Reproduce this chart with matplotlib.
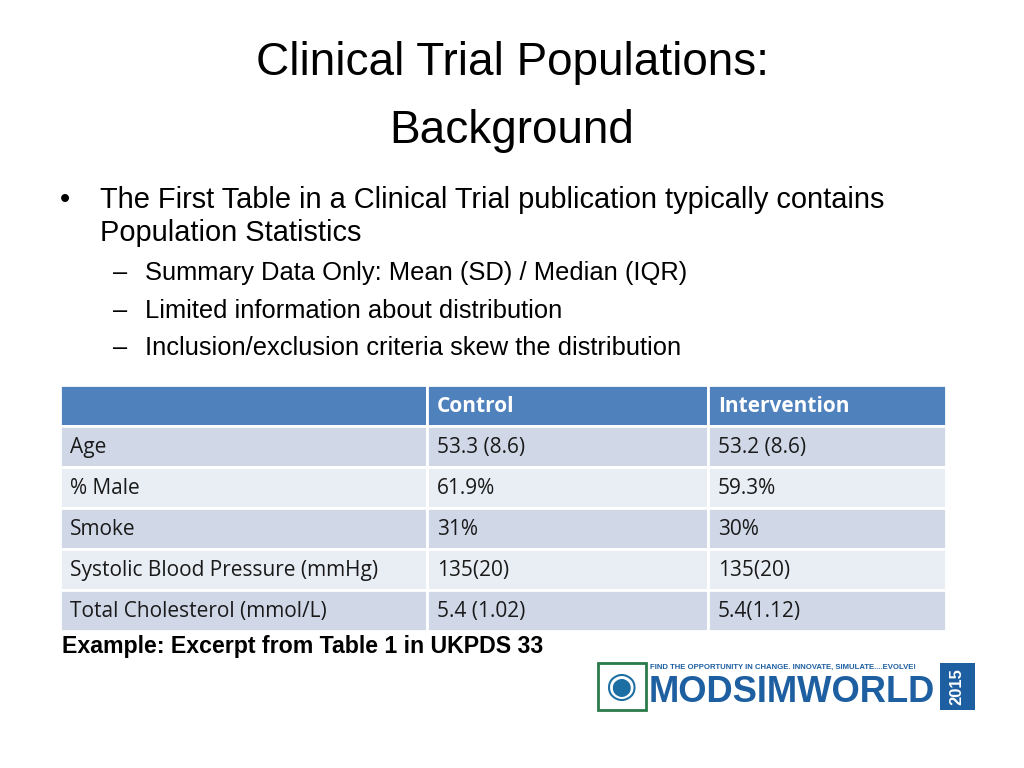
import matplotlib
matplotlib.use("Agg")
import matplotlib.pyplot as plt
from matplotlib.patches import Rectangle

title_lines = ["Clinical Trial Populations:", "Background"]
bullets = ["The First Table in a Clinical Trial publication typically contains", "Population Statistics"]
subbullets = ["Summary Data Only: Mean (SD) / Median (IQR)",
              "Limited information about distribution",
              "Inclusion/exclusion criteria skew the distribution"]
columns = ["", "Control", "Intervention"]
rows = ["Age", "% Male", "Smoke", "Systolic Blood Pressure (mmHg)", "Total Cholesterol (mmol/L)"]
control = ["53.3 (8.6)", "61.9%", "31%", "135(20)", "5.4 (1.02)"]
intervention = ["53.2 (8.6)", "59.3%", "30%", "135(20)", "5.4(1.12)"]
caption = "Example: Excerpt from Table 1 in UKPDS 33"

F = "Liberation Sans"
fig = plt.figure(figsize=(10.24, 7.68), dpi=100)
ax = fig.add_axes([0, 0, 1, 1])
ax.set_xlim(0, 1024); ax.set_ylim(768, 0); ax.axis("off")

ax.text(512, 63, title_lines[0], ha="center", va="center", fontsize=33, family=F)
ax.text(512, 131, title_lines[1], ha="center", va="center", fontsize=33, family=F)

ax.text(60, 200, "•", ha="left", va="center", fontsize=21, family=F)
ax.text(100, 200, bullets[0], ha="left", va="center", fontsize=20.9, family=F)
ax.text(100, 233, bullets[1], ha="left", va="center", fontsize=20.9, family=F)
for i, s in enumerate(subbullets):
    y = 273 + i * 37.5
    ax.text(113, y, "–", ha="left", va="center", fontsize=18.4, family=F)
    ax.text(145, y, s, ha="left", va="center", fontsize=18.4, family=F)

# table
xs = [60, 427, 708, 946]
y0, rh = 385, 41
for j in range(3):
    ax.add_patch(Rectangle((xs[j], y0), xs[j+1]-xs[j], rh, fc="#4F81BD", ec="white", lw=2))
    ax.text(xs[j] + 10, y0 + rh/2 + 1, columns[j], ha="left", va="center", fontsize=15,
            color="white", weight="bold", family="Open Sans")
for i in range(len(rows)):
    y = y0 + rh * (i + 1)
    fc = "#D0D8E8" if i % 2 == 0 else "#E9EDF4"
    vals = [rows[i], control[i], intervention[i]]
    for j in range(3):
        ax.add_patch(Rectangle((xs[j], y), xs[j+1]-xs[j], rh, fc=fc, ec="white", lw=2))
        ax.text(xs[j] + 10, y + rh/2 + 1, vals[j], ha="left", va="center", fontsize=15,
                color="#1a1a1a", family="Open Sans")

ax.text(62, 647, caption, ha="left", va="center", fontsize=16.7, weight="bold", family=F)

# logo
ax.add_patch(Rectangle((598, 663), 48, 47, fc="white", ec="#2a7a4a", lw=2))
ax.text(622, 687, "◉", ha="center", va="center", fontsize=26, color="#1d6fa3")
ax.text(650, 667, "FIND THE OPPORTUNITY IN CHANGE. INNOVATE, SIMULATE....EVOLVE!",
        ha="left", va="center", fontsize=5.6, color="#1d5fa0", weight="bold", family=F)
ax.text(649, 693, "MODSIMWORLD", ha="left", va="center", fontsize=26.2, color="#1d5fa0",
        weight="bold", family=F)
ax.add_patch(Rectangle((940, 663), 35, 47, fc="#1d5fa0", ec="none"))
ax.text(957, 687, "2015", ha="center", va="center", fontsize=12, color="white",
        weight="bold", rotation=90, family=F)

fig.savefig("out.png", dpi=100)
